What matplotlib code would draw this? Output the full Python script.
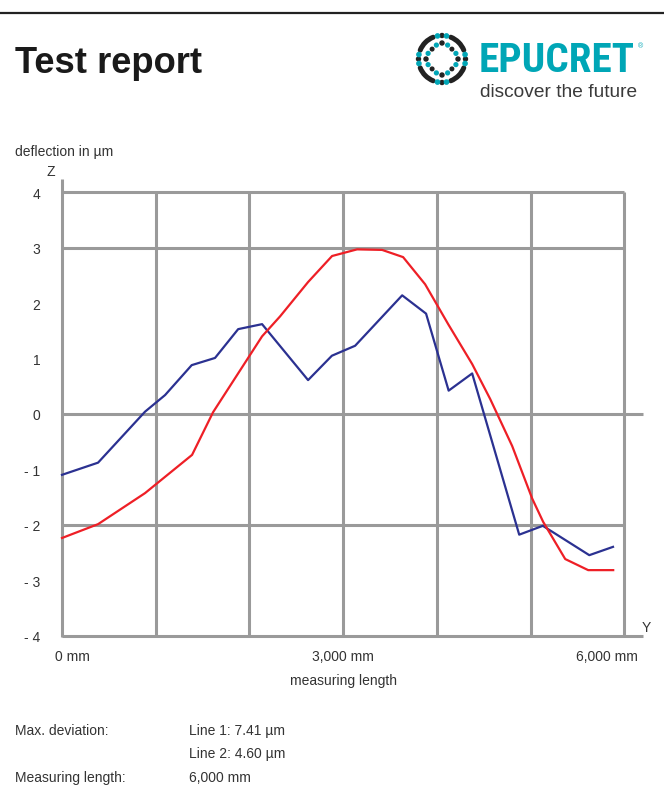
import matplotlib
matplotlib.use("Agg")
import matplotlib.pyplot as plt
from matplotlib import font_manager
from matplotlib.patches import Arc, Circle
import numpy as np

# ---------------- data ----------------
line1_x = [0, 385, 886, 1100, 1384, 1633, 1880, 2135, 2626, 2880, 3128, 3630, 3885, 4126, 4377, 4879, 5131, 5627, 5880]
line1_z = [-1.10, -0.88, 0.04, 0.34, 0.88, 1.01, 1.53, 1.62, 0.61, 1.05, 1.23, 2.14, 1.81, 0.42, 0.73, -2.18, -2.02, -2.55, -2.40]

line2_x = [0, 385, 886, 1388, 1612, 2135, 2327, 2626, 2882, 3149, 3416, 3640, 3875, 4121, 4377, 4569, 4804, 5018, 5135, 5370, 5615, 5882]
line2_z = [-2.24, -1.99, -1.43, -0.74, 0.03, 1.40, 1.76, 2.38, 2.85, 2.97, 2.96, 2.83, 2.34, 1.62, 0.90, 0.27, -0.58, -1.53, -1.95, -2.62, -2.82, -2.82]

y_ticks = [4, 3, 2, 1, 0, -1, -2, -3, -4]
y_tick_labels = ["4", "3", "2", "1", "0", "- 1", "- 2", "- 3", "- 4"]
x_label_vals = [0, 3000, 6000]
x_label_text = ["0 mm", "3,000 mm", "6,000 mm"]
v_grid = [1000, 2000, 3000, 4000, 5000, 6000]
h_grid_short = [4, 3, -2]
h_grid_long = [0, -4]

title = "Test report"
y_axis_title = "deflection in µm"
x_axis_title = "measuring length"
info_labels = ["Max. deviation:", "", "Measuring length:"]
info_values = ["Line 1: 7.41 µm", "Line 2: 4.60 µm", "6,000 mm"]

# ---------------- fonts ----------------
avail = {f.name for f in font_manager.fontManager.ttflist}
base_font = "Liberation Sans" if "Liberation Sans" in avail else "DejaVu Sans"
narrow_font = base_font
for cand in ["Liberation Sans Narrow", "Roboto Condensed", "Open Sans Condensed", "Noto Sans Condensed"]:
    if cand in avail:
        narrow_font = cand
        break
plt.rcParams["font.family"] = [base_font, "DejaVu Sans"]

W, H = 664, 803
fig = plt.figure(figsize=(W / 100, H / 100), dpi=100)
fig.patch.set_facecolor("white")
renderer = fig.canvas.get_renderer()


def fx(px):
    return px / W


def fy(py):
    return 1 - py / H


def fit_width(t, target_px):
    for _ in range(3):
        w = t.get_window_extent(renderer=renderer).width
        if w > 0:
            t.set_fontsize(t.get_fontsize() * target_px / w)


TXT = "#333333"
GRID = "#9a9a9a"
TEAL = "#00a6b6"

# top rule
fig.add_artist(plt.Line2D([0, 1], [fy(14), fy(14)], color="#222222", lw=1.6, transform=fig.transFigure))

# title
t_title = fig.text(fx(15), fy(73), title, fontsize=26, fontweight="bold", color="#1a1a1a", ha="left", va="baseline")
fit_width(t_title, 187)

# logo text
t_logo = fig.text(fx(479), fy(72), "EPUCRET", family=[narrow_font, "DejaVu Sans"], fontsize=24,
                  fontweight="bold", color=TEAL, ha="left", va="baseline")
fit_width(t_logo, 156)
fig.text(fx(638), fy(47), "®", fontsize=5, color=TEAL, ha="left", va="center")
t_tag = fig.text(fx(480), fy(97), "discover the future", fontsize=12.5, color="#3a3a3a", ha="left", va="baseline")
fit_width(t_tag, 156)

# logo icon
lax = fig.add_axes([fx(412), fy(90), fx(60), 60 / H])
lax.set_xlim(-30, 30)
lax.set_ylim(-30, 30)
lax.set_aspect("equal")
lax.axis("off")
for a0 in [22, 112, 202, 292]:
    lax.add_patch(Arc((0, 0), 47, 47, theta1=a0, theta2=a0 + 46, lw=3.6, color="#222222", capstyle="round"))
for ang in [90, 270, 0, 180]:
    r = np.deg2rad(ang)
    lax.add_patch(Circle((23.5 * np.cos(r), 23.5 * np.sin(r)), 2.0, color="#222222"))
    for d in [-11, 11]:
        rr = np.deg2rad(ang + d)
        lax.add_patch(Circle((23.5 * np.cos(rr), 23.5 * np.sin(rr)), 2.1, color=TEAL))
    for d in [-22, 22]:
        rr = np.deg2rad(ang + d)
        lax.add_patch(Circle((15 * np.cos(rr), 15 * np.sin(rr)), 1.9, color=TEAL))
    lax.add_patch(Circle((16 * np.cos(r), 16 * np.sin(r)), 2.0, color="#222222"))
for ang in [45, 135, 225, 315]:
    r = np.deg2rad(ang)
    lax.add_patch(Circle((14 * np.cos(r), 14 * np.sin(r)), 1.8, color="#222222"))

# ---------------- chart ----------------
ax = fig.add_axes([fx(62), fy(636.5), fx(643) - fx(62), (636.5 - 180) / H])
ax.set_xlim(0, 6200)
ax.set_ylim(-4, 4.24)
for s in ax.spines.values():
    s.set_visible(False)
ax.set_xticks([])
ax.set_yticks(y_ticks)
ax.set_yticklabels(y_tick_labels)
ax.tick_params(axis="y", length=0, pad=15.5, labelsize=10, labelcolor=TXT)
for lab in ax.get_yticklabels():
    lab.set_horizontalalignment("right")

glw = 2.2
for xv in v_grid:
    ax.plot([xv, xv], [-4, 4], color=GRID, lw=glw, solid_capstyle="butt", clip_on=False, zorder=1)
for yv in h_grid_short:
    ax.plot([0, 6000], [yv, yv], color=GRID, lw=glw, solid_capstyle="butt", clip_on=False, zorder=1)
for yv in h_grid_long:
    ax.plot([0, 6200], [yv, yv], color=GRID, lw=glw, solid_capstyle="butt", clip_on=False, zorder=1)
ax.plot([0, 0], [-4.02, 4.24], color=GRID, lw=glw, solid_capstyle="butt", clip_on=False, zorder=1)

ax.plot(line1_x, line1_z, color="#2b3191", lw=1.6, zorder=3, clip_on=False)
ax.plot(line2_x, line2_z, color="#ee1f26", lw=1.6, zorder=3, clip_on=False)

# x labels
x_offsets = [(-7, "left"), (0, "center"), (14, "right")]
for xv, txt, (off, ha) in zip(x_label_vals, x_label_text, x_offsets):
    xd = xv + off * 6200 / 581
    ax.text(xd, -4.37, txt, fontsize=10, color=TXT, ha=ha, va="center", clip_on=False)
ax.text(3000, -4.80, x_axis_title, fontsize=10, color=TXT, ha="center", va="center", clip_on=False)

fig.text(fx(15), fy(152), y_axis_title, fontsize=10, color=TXT, ha="left", va="center")
fig.text(fx(51), fy(172), "Z", fontsize=10, color=TXT, ha="center", va="center")
fig.text(fx(646), fy(628), "Y", fontsize=10, color=TXT, ha="center", va="center")

# info block
rows_y = [731, 754, 778]
for lab, val, yy in zip(info_labels, info_values, rows_y):
    if lab:
        fig.text(fx(15), fy(yy), lab, fontsize=10, color=TXT, ha="left", va="center")
    fig.text(fx(189), fy(yy), val, fontsize=10, color=TXT, ha="left", va="center")

fig.savefig("out.png", dpi=100, facecolor="white")
